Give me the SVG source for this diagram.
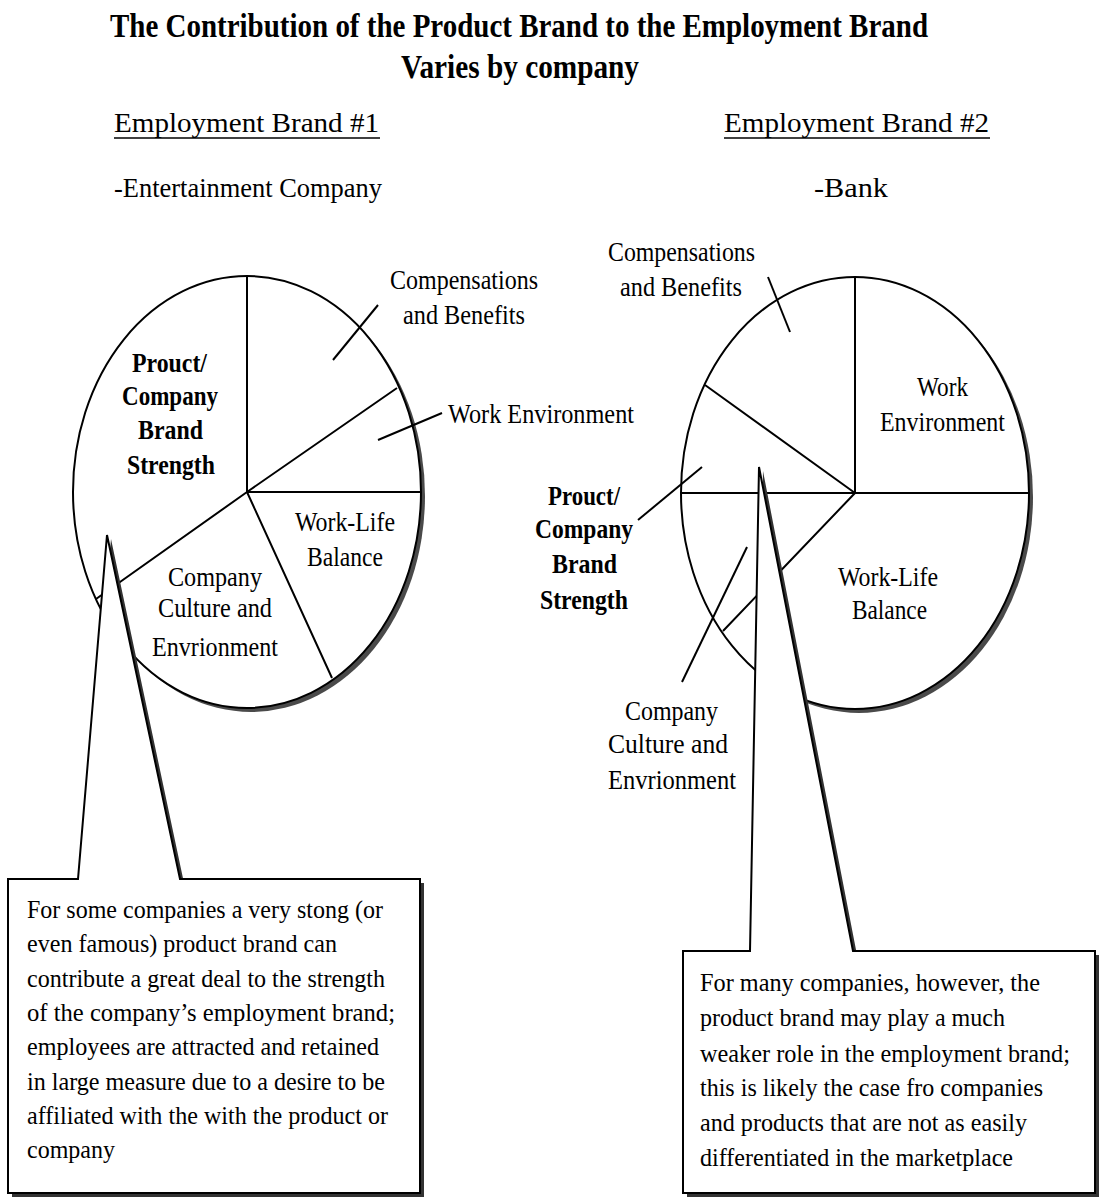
<svg xmlns="http://www.w3.org/2000/svg" width="1102" height="1199" viewBox="0 0 1102 1199">
  <style>
    text { font-family: "Liberation Serif", "Times New Roman", serif; fill: #000; }
    .title { font-size: 34px; font-weight: bold; }
    .head { font-size: 28px; }
    .lbl { font-size: 28px; }
    .bold { font-size: 28px; font-weight: bold; }
    .body { font-size: 26px; }
    .pie { fill: #fff; stroke: #000; stroke-width: 2; }
    .pie-shadow { fill: #4a4a4a; }
    .rad { stroke: #000; stroke-width: 2; fill: none; }
    .lead { stroke: #000; stroke-width: 2; fill: none; }
    .uline { stroke: #000; stroke-width: 1.6; }
    .callout { fill: #fff; stroke: #000; stroke-width: 2; stroke-linejoin: miter; }
    .callout-shadow { fill: #333; }
  </style>

  <rect width="1102" height="1199" fill="#fff"/>

  <!-- heading -->
  <g id="title">
    <text class="title" x="110" y="37" textLength="818" lengthAdjust="spacingAndGlyphs">The Contribution of the Product Brand to the Employment Brand</text>
    <text class="title" x="401" y="78" textLength="238" lengthAdjust="spacingAndGlyphs">Varies by company</text>
  </g>

  <g id="brand1-heading">
    <text class="head" x="114" y="132" textLength="265" lengthAdjust="spacingAndGlyphs">Employment Brand #1</text>
    <line class="uline" x1="114" y1="138" x2="380" y2="138"/>
    <text class="head" x="114" y="197" textLength="268" lengthAdjust="spacingAndGlyphs">-Entertainment Company</text>
  </g>

  <g id="brand2-heading">
    <text class="head" x="724" y="132" textLength="265" lengthAdjust="spacingAndGlyphs">Employment Brand #2</text>
    <line class="uline" x1="724" y1="138" x2="990" y2="138"/>
    <text class="head" x="814" y="197" textLength="74" lengthAdjust="spacingAndGlyphs">-Bank</text>
  </g>

  <!-- pie 1: entertainment company -->
  <g id="pie1">
    <ellipse class="pie-shadow" cx="251" cy="496" rx="174" ry="216"/>
    <ellipse class="pie" cx="247" cy="492" rx="174" ry="216"/>
    <path class="rad" d="M247,492 V276 M247,492 L397,388 M247,492 H421 M247,492 L332,678 M247,492 L96,599"/>
  </g>

  <g id="pie1-labels">
    <text class="bold" x="132" y="372" textLength="75" lengthAdjust="spacingAndGlyphs">Prouct/</text>
    <text class="bold" x="122" y="405" textLength="96" lengthAdjust="spacingAndGlyphs">Company</text>
    <text class="bold" x="138" y="439" textLength="65" lengthAdjust="spacingAndGlyphs">Brand</text>
    <text class="bold" x="127" y="474" textLength="88" lengthAdjust="spacingAndGlyphs">Strength</text>

    <text class="lbl" x="390" y="289" textLength="148" lengthAdjust="spacingAndGlyphs">Compensations</text>
    <text class="lbl" x="403" y="324" textLength="122" lengthAdjust="spacingAndGlyphs">and Benefits</text>
    <text class="lbl" x="448" y="423" textLength="186" lengthAdjust="spacingAndGlyphs">Work Environment</text>

    <text class="lbl" x="295" y="531" textLength="100" lengthAdjust="spacingAndGlyphs">Work-Life</text>
    <text class="lbl" x="307" y="566" textLength="76" lengthAdjust="spacingAndGlyphs">Balance</text>

    <text class="lbl" x="168" y="586" textLength="94" lengthAdjust="spacingAndGlyphs">Company</text>
    <text class="lbl" x="158" y="617" textLength="114" lengthAdjust="spacingAndGlyphs">Culture and</text>
    <text class="lbl" x="152" y="656" textLength="126" lengthAdjust="spacingAndGlyphs">Envrionment</text>
  </g>

  <!-- pie 2: bank -->
  <g id="pie2">
    <ellipse class="pie-shadow" cx="859" cy="497" rx="174" ry="216"/>
    <ellipse class="pie" cx="855" cy="493" rx="174" ry="216"/>
    <path class="rad" d="M855,493 V277 M855,493 H1029 M855,493 H681 M855,493 L705,385 M855,493 L723,631"/>
  </g>

  <g id="pie2-labels">
    <text class="lbl" x="608" y="261" textLength="147" lengthAdjust="spacingAndGlyphs">Compensations</text>
    <text class="lbl" x="620" y="296" textLength="122" lengthAdjust="spacingAndGlyphs">and Benefits</text>

    <text class="lbl" x="917" y="396" textLength="51" lengthAdjust="spacingAndGlyphs">Work</text>
    <text class="lbl" x="880" y="431" textLength="125" lengthAdjust="spacingAndGlyphs">Environment</text>

    <text class="lbl" x="838" y="586" textLength="100" lengthAdjust="spacingAndGlyphs">Work-Life</text>
    <text class="lbl" x="852" y="619" textLength="75" lengthAdjust="spacingAndGlyphs">Balance</text>

    <text class="bold" x="548" y="505" textLength="72" lengthAdjust="spacingAndGlyphs">Prouct/</text>
    <text class="bold" x="535" y="538" textLength="98" lengthAdjust="spacingAndGlyphs">Company</text>
    <text class="bold" x="552" y="573" textLength="65" lengthAdjust="spacingAndGlyphs">Brand</text>
    <text class="bold" x="540" y="609" textLength="88" lengthAdjust="spacingAndGlyphs">Strength</text>

    <text class="lbl" x="625" y="720" textLength="93" lengthAdjust="spacingAndGlyphs">Company</text>
    <text class="lbl" x="608" y="753" textLength="120" lengthAdjust="spacingAndGlyphs">Culture and</text>
    <text class="lbl" x="608" y="789" textLength="128" lengthAdjust="spacingAndGlyphs">Envrionment</text>
  </g>

  <!-- leader lines from labels into the slices -->
  <g id="connectors">
    <line class="lead" x1="378" y1="305" x2="333" y2="360"/>
    <line class="lead" x1="442" y1="413" x2="378" y2="440"/>
    <line class="lead" x1="768" y1="277" x2="790" y2="332"/>
    <line class="lead" x1="702" y1="467" x2="638" y2="520"/>
    <line class="lead" x1="747" y1="547" x2="682" y2="682"/>
  </g>

  <!-- callout 1 -->
  <g id="callout1">
    <polygon class="callout-shadow" points="12,883 82,883 111,539 184,883 424,883 424,1197 12,1197"/>
    <polygon class="callout" points="8,879 78,879 107,535 180,879 420,879 420,1193 8,1193"/>
    <text class="body" x="27" y="918" textLength="356" lengthAdjust="spacingAndGlyphs">For some companies a very stong (or</text>
    <text class="body" x="27" y="952" textLength="310" lengthAdjust="spacingAndGlyphs">even famous) product brand can</text>
    <text class="body" x="27" y="987" textLength="358" lengthAdjust="spacingAndGlyphs">contribute a great deal to the strength</text>
    <text class="body" x="27" y="1021" textLength="368" lengthAdjust="spacingAndGlyphs">of the company’s employment brand;</text>
    <text class="body" x="27" y="1055" textLength="352" lengthAdjust="spacingAndGlyphs">employees are attracted and retained</text>
    <text class="body" x="27" y="1090" textLength="358" lengthAdjust="spacingAndGlyphs">in large measure due to a desire to be</text>
    <text class="body" x="27" y="1124" textLength="361" lengthAdjust="spacingAndGlyphs">affiliated with the with the product or</text>
    <text class="body" x="27" y="1158" textLength="88" lengthAdjust="spacingAndGlyphs">company</text>
  </g>

  <!-- callout 2 -->
  <g id="callout2">
    <polygon class="callout-shadow" points="687,955 754,955 763,471 857,955 1099,955 1099,1197 687,1197"/>
    <polygon class="callout" points="683,951 750,951 759,467 853,951 1095,951 1095,1193 683,1193"/>
    <text class="body" x="700" y="991" textLength="340" lengthAdjust="spacingAndGlyphs">For many companies, however, the</text>
    <text class="body" x="700" y="1026" textLength="305" lengthAdjust="spacingAndGlyphs">product brand may play a much</text>
    <text class="body" x="700" y="1062" textLength="370" lengthAdjust="spacingAndGlyphs">weaker role in the employment brand;</text>
    <text class="body" x="700" y="1096" textLength="343" lengthAdjust="spacingAndGlyphs">this is likely the case fro companies</text>
    <text class="body" x="700" y="1131" textLength="327" lengthAdjust="spacingAndGlyphs">and products that are not as easily</text>
    <text class="body" x="700" y="1166" textLength="313" lengthAdjust="spacingAndGlyphs">differentiated in the marketplace</text>
  </g>
</svg>
